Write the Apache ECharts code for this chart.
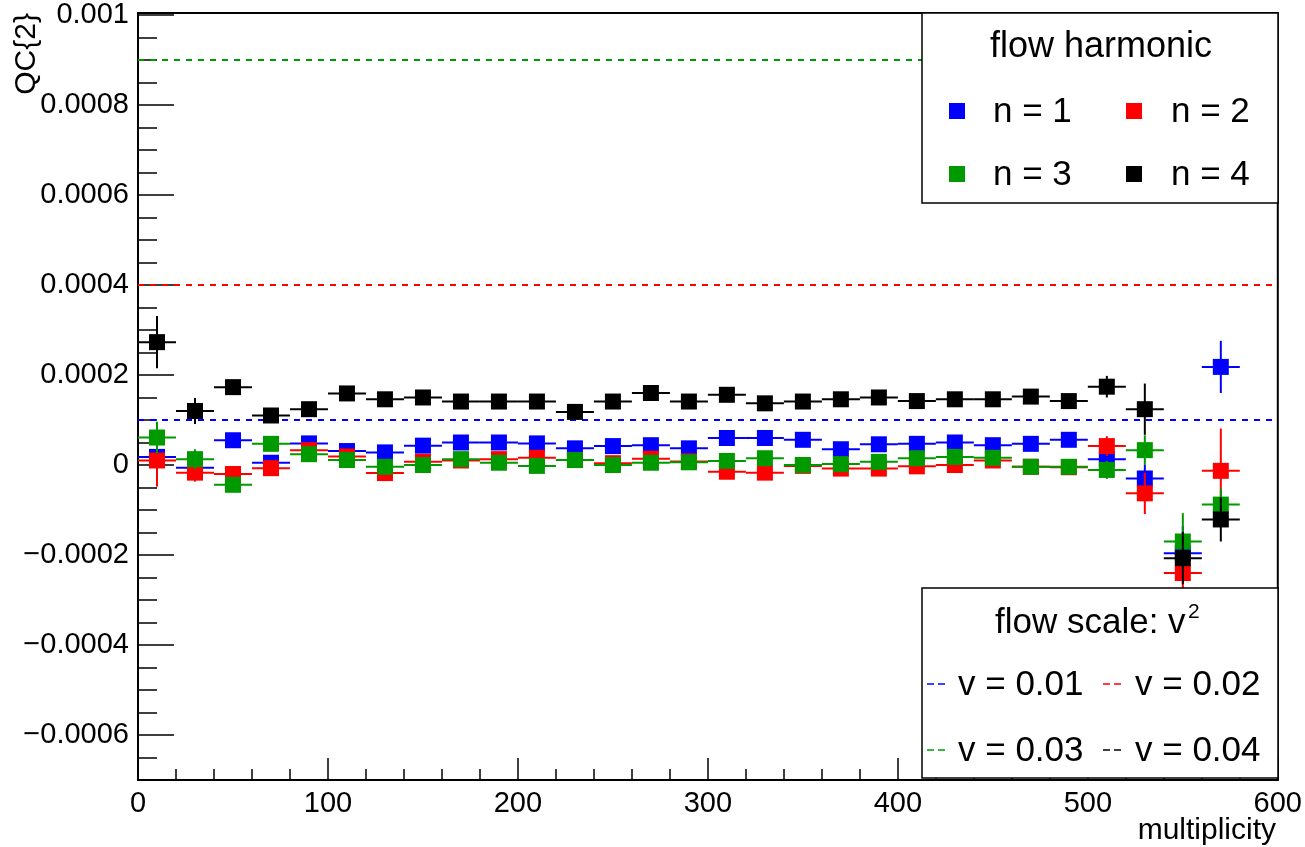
<!DOCTYPE html>
<html>
<head>
<meta charset="utf-8">
<script src="https://cdn.jsdelivr.net/npm/echarts@6/dist/echarts.min.js"></script>
<style>
  html, body { margin: 0; padding: 0; background: #ffffff; }
  #chart { width: 1305px; height: 847px; }
</style>
</head>
<body>
<div id="chart"></div>
<script>
// Multiplicity bins (centres) and their width
const binCenters = [10, 30, 50, 70, 90, 110, 130, 150, 170, 190, 210, 230, 250, 270, 290,
                    310, 330, 350, 370, 390, 410, 430, 450, 470, 490, 510, 530, 550, 570];
const binWidth = 20;

// QC{2} per flow harmonic
const harmonicNames = ['n = 1', 'n = 2', 'n = 3', 'n = 4'];
const harmonicColors = ['#0000ff', '#ff0000', '#009900', '#000000'];

const qcN1 = [18e-6, -6e-6, 55e-6, 5e-6, 48e-6, 31e-6, 28e-6, 43e-6, 50e-6, 50e-6,
              48e-6, 37e-6, 42e-6, 44e-6, 37e-6, 60e-6, 60e-6, 56e-6, 35e-6, 46e-6,
              47e-6, 50e-6, 44e-6, 47e-6, 56e-6, 13e-6, -30e-6, -196e-6, 218e-6];
const errN1 = [50e-6, 18e-6, 10e-6, 10e-6, 10e-6, 10e-6, 10e-6, 10e-6, 10e-6, 10e-6,
               10e-6, 10e-6, 10e-6, 10e-6, 10e-6, 10e-6, 10e-6, 10e-6, 10e-6, 10e-6,
               10e-6, 10e-6, 10e-6, 10e-6, 10e-6, 20e-6, 30e-6, 60e-6, 58e-6];

const qcN2 = [10e-6, -17e-6, -20e-6, -7e-6, 33e-6, 19e-6, -18e-6, 7e-6, 10e-6, 13e-6,
              16e-6, 11e-6, 4e-6, 14e-6, 8e-6, -15e-6, -17e-6, -2e-6, -8e-6, -8e-6,
              -3e-6, 0e-6, 10e-6, -4e-6, -5e-6, 42e-6, -63e-6, -240e-6, -13e-6];
const errN2 = [58e-6, 20e-6, 10e-6, 10e-6, 10e-6, 10e-6, 10e-6, 10e-6, 10e-6, 10e-6,
               10e-6, 10e-6, 10e-6, 10e-6, 10e-6, 10e-6, 10e-6, 10e-6, 10e-6, 10e-6,
               10e-6, 10e-6, 10e-6, 10e-6, 10e-6, 22e-6, 46e-6, 60e-6, 94e-6];

const qcN3 = [61e-6, 13e-6, -44e-6, 47e-6, 24e-6, 11e-6, -4e-6, 0e-6, 13e-6, 5e-6,
              -2e-6, 11e-6, 0e-6, 5e-6, 6e-6, 9e-6, 15e-6, 0e-6, 2e-6, 7e-6,
              15e-6, 18e-6, 16e-6, -4e-6, -4e-6, -11e-6, 33e-6, -170e-6, -88e-6];
const errN3 = [35e-6, 22e-6, 10e-6, 10e-6, 10e-6, 10e-6, 10e-6, 10e-6, 10e-6, 10e-6,
               10e-6, 10e-6, 10e-6, 10e-6, 10e-6, 10e-6, 10e-6, 10e-6, 10e-6, 10e-6,
               10e-6, 10e-6, 10e-6, 10e-6, 10e-6, 20e-6, 33e-6, 63e-6, 35e-6];

const qcN4 = [273e-6, 120e-6, 173e-6, 110e-6, 124e-6, 159e-6, 146e-6, 150e-6, 141e-6, 141e-6,
              141e-6, 118e-6, 141e-6, 160e-6, 141e-6, 156e-6, 137e-6, 141e-6, 146e-6, 150e-6,
              142e-6, 146e-6, 146e-6, 152e-6, 142e-6, 174e-6, 124e-6, -207e-6, -121e-6];
const errN4 = [58e-6, 29e-6, 10e-6, 10e-6, 10e-6, 10e-6, 10e-6, 10e-6, 10e-6, 10e-6,
               10e-6, 10e-6, 10e-6, 10e-6, 10e-6, 10e-6, 10e-6, 10e-6, 10e-6, 10e-6,
               10e-6, 10e-6, 10e-6, 10e-6, 10e-6, 24e-6, 57e-6, 58e-6, 49e-6];

// Flow scale reference lines, drawn at v^2
const flowNames = ['v = 0.01', 'v = 0.02', 'v = 0.03', 'v = 0.04'];
const flowValues = [0.01, 0.02, 0.03, 0.04];
const flowColors = ['#0000ff', '#ff0000', '#009900', '#000000'];

// Axis ticks
const yTickValues = [-0.0006, -0.0004, -0.0002, 0, 0.0002, 0.0004, 0.0006, 0.0008, 0.001];
const yTickLabels = ['\u22120.0006', '\u22120.0004', '\u22120.0002', '0', '0.0002', '0.0004', '0.0006', '0.0008', '0.001'];
const xTickValues = [0, 100, 200, 300, 400, 500, 600];
const xTickLabels = ['0', '100', '200', '300', '400', '500', '600'];

const FONT = '"Liberation Sans", Arial, Helvetica, sans-serif';
const Y_MIN = -0.0007, Y_MAX = 0.0010044;

// minor y ticks every 0.00005
const yMinorTicks = [];
for (let k = -14; k <= 20; k++) yMinorTicks.push(Math.round(k * 5) / 100000);

const qcValues = [qcN1, qcN2, qcN3, qcN4];
const qcErrors = [errN1, errN2, errN3, errN4];

// One bin: horizontal bar over the bin width, vertical error bar, square marker
function renderPoint(params, api) {
  const x = api.value(0), y = api.value(1), e = api.value(2);
  const c = api.coord([x, y]);
  const l = api.coord([x - binWidth / 2, y]);
  const r = api.coord([x + binWidth / 2, y]);
  const t = api.coord([x, y + e]);
  const b = api.coord([x, y - e]);
  const color = api.visual('color');
  const s = 16;
  return {
    type: 'group',
    children: [
      { type: 'line', shape: { x1: l[0], y1: l[1], x2: r[0], y2: r[1] }, style: { stroke: color, lineWidth: 2 } },
      { type: 'line', shape: { x1: t[0], y1: t[1], x2: b[0], y2: b[1] }, style: { stroke: color, lineWidth: 2 } },
      { type: 'rect', shape: { x: c[0] - s / 2, y: c[1] - s / 2, width: s, height: s }, style: { fill: color } }
    ]
  };
}

const series = [];
flowValues.forEach((v, i) => {
  series.push({
    name: flowNames[i],
    type: 'line',
    data: [[0, v * v], [600, v * v]],
    symbol: 'none',
    silent: true,
    clip: true,
    z: 1,
    lineStyle: { color: flowColors[i], width: 2, type: [6, 6] }
  });
});
harmonicNames.forEach((name, i) => {
  series.push({
    name: name,
    type: 'custom',
    z: 2 + i,
    itemStyle: { color: harmonicColors[i] },
    renderItem: renderPoint,
    data: binCenters.map((x, j) => [x, qcValues[i][j], qcErrors[i][j]])
  });
});

// Legend boxes
const graphics = [];
const box1 = { x: 922, y: 13, w: 356, h: 190 };
const box2 = { x: 922, y: 588, w: 356, h: 190 };
[box1, box2].forEach(bx => {
  graphics.push({ type: 'rect', z: 100, shape: { x: bx.x, y: bx.y, width: bx.w, height: bx.h },
    style: { fill: '#ffffff', stroke: '#000000', lineWidth: 1.5 } });
});
graphics.push({ type: 'text', z: 101, x: 1101, y: 47,
  style: { text: 'flow harmonic', font: '36px ' + FONT, fill: '#000', align: 'center', verticalAlign: 'middle' } });
const colX = [[957, 993], [1134, 1171]];
const rowY1 = [112, 175];
harmonicNames.forEach((name, i) => {
  const cx = colX[i % 2], cy = rowY1[Math.floor(i / 2)];
  graphics.push({ type: 'rect', z: 101, shape: { x: cx[0] - 8, y: cy - 9, width: 16, height: 16 },
    style: { fill: harmonicColors[i] } });
  graphics.push({ type: 'text', z: 101, x: cx[1], y: cy,
    style: { text: name, font: '35px ' + FONT, fill: '#000', align: 'left', verticalAlign: 'middle' } });
});
graphics.push({ type: 'text', z: 101, x: 995, y: 623,
  style: { text: 'flow scale: v', font: '35px ' + FONT, fill: '#000', align: 'left', verticalAlign: 'middle' } });
graphics.push({ type: 'text', z: 101, x: 1188, y: 602,
  style: { text: '2', font: '21px ' + FONT, fill: '#000', align: 'left', verticalAlign: 'top' } });
const colX2 = [[927, 958], [1103, 1135]];
const rowY2 = [685, 751];
flowNames.forEach((name, i) => {
  const cx = colX2[i % 2], cy = rowY2[Math.floor(i / 2)];
  graphics.push({ type: 'line', z: 101, shape: { x1: cx[0], y1: cy - 1, x2: cx[0] + 18, y2: cy - 1 },
    style: { stroke: flowColors[i], lineWidth: 1.5, lineDash: [7, 4] } });
  graphics.push({ type: 'text', z: 101, x: cx[1], y: cy,
    style: { text: name, font: '35px ' + FONT, fill: '#000', align: 'left', verticalAlign: 'middle' } });
});
// Axis titles
graphics.push({ type: 'text', z: 101, x: 27, y: 13, rotation: Math.PI / 2,
  style: { text: 'QC{2}', font: '30px ' + FONT, fill: '#000', align: 'right', verticalAlign: 'middle' } });
graphics.push({ type: 'text', z: 101, x: 1276, y: 846,
  style: { text: 'multiplicity', font: '30px ' + FONT, fill: '#000', align: 'right', verticalAlign: 'bottom' } });

const chart = echarts.init(document.getElementById('chart'), null, { renderer: 'canvas' });
chart.setOption({
  animation: false,
  backgroundColor: '#ffffff',
  grid: { left: 138, right: 27, top: 13, bottom: 67, show: true, borderColor: '#000', borderWidth: 2, backgroundColor: 'transparent' },
  xAxis: {
    type: 'value', min: 0, max: 600, interval: 100,
    axisLine: { show: true, onZero: false, lineStyle: { color: '#000', width: 2 } },
    axisTick: { show: true, inside: true, length: 22, lineStyle: { color: '#000', width: 1.5 } },
    minorTick: { show: true, splitNumber: 5, length: 11, lineStyle: { color: '#000', width: 1.5 } },
    splitLine: { show: false },
    axisLabel: {
      margin: 9, color: '#000', fontSize: 29, fontFamily: FONT,
      formatter: v => { const k = xTickValues.indexOf(v); return k >= 0 ? xTickLabels[k] : ''; }
    }
  },
  yAxis: [
    {
      type: 'value', min: Y_MIN, max: Y_MAX, position: 'left',
      axisLine: { show: true, onZero: false, lineStyle: { color: '#000', width: 2 } },
      axisTick: { show: true, inside: true, length: 19, customValues: yMinorTicks, lineStyle: { color: '#000', width: 1.5 } },
      axisLabel: { show: false },
      splitLine: { show: false }
    },
    {
      type: 'value', min: Y_MIN, max: Y_MAX, position: 'left',
      axisLine: { show: false },
      axisTick: { show: true, inside: true, length: 36, customValues: yTickValues, lineStyle: { color: '#000', width: 1.5 } },
      axisLabel: {
        show: true, customValues: yTickValues, margin: 9, color: '#000', fontSize: 29, fontFamily: FONT,
        formatter: v => { const k = yTickValues.findIndex(t => Math.abs(t - v) < 1e-9); return k >= 0 ? yTickLabels[k] : ''; }
      },
      splitLine: { show: false }
    }
  ],
  series: series,
  graphic: graphics
});
</script>
</body>
</html>
